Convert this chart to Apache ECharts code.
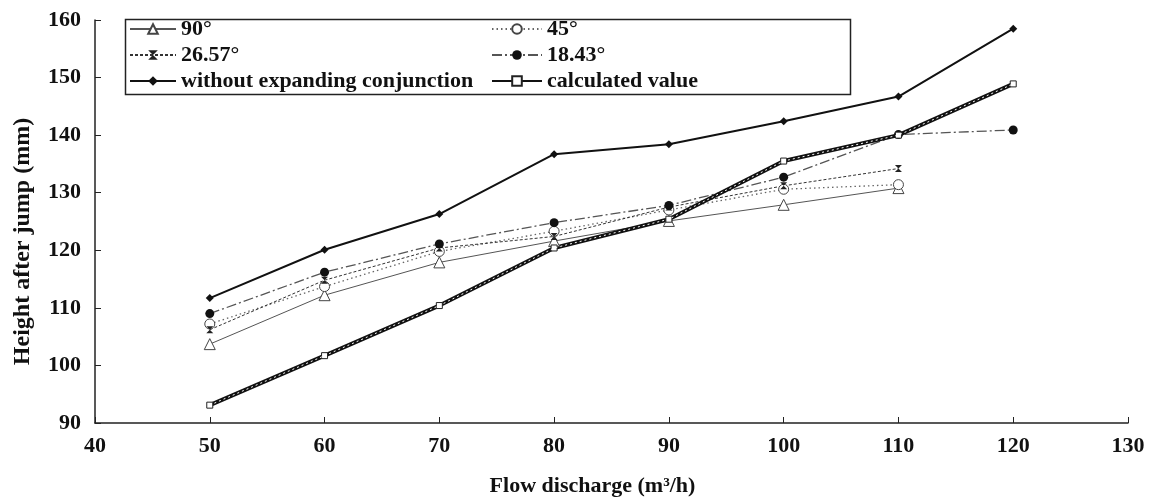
<!DOCTYPE html>
<html>
<head>
<meta charset="utf-8">
<script src="https://cdn.jsdelivr.net/npm/echarts@6/dist/echarts.min.js"></script>
<style>
  html, body { margin: 0; padding: 0; background: #fff; }
  #chart { width: 1150px; height: 501px; }
</style>
</head>
<body>
<div id="chart"></div>
<script>
// flow discharge (m3/h)
var flow = [50, 60, 70, 80, 90, 100, 110, 120];
// height after jump (mm)
var deg90  = [103.7, 112.2, 117.9, 121.6, 125.1, 127.9, 130.8, null];
var deg45  = [107.2, 113.7, 119.8, 123.3, 127.0, 130.6, 131.4, null];
var deg26  = [106.2, 114.8, 120.4, 122.4, 127.5, 131.2, 134.2, null];
var deg18  = [109.0, 116.2, 121.1, 124.8, 127.8, 132.7, 140.1, 140.9];
var noExp  = [111.7, 120.1, 126.3, 136.7, 138.4, 142.4, 146.7, 158.5];
var calc   = [93.1, 101.7, 110.4, 120.4, 125.4, 135.5, 140.0, 148.9];

function pairs(ys){
	var out = [];
	for(var i=0;i<flow.length;i++){
		if(ys[i] != null) out.push([flow[i], ys[i]]);
	}
	return out;
}

var font = "'Liberation Serif', 'Times New Roman', serif";
var hourglass = 'path://M0,0 L10,0 L0,10 L10,10 Z';
var legendText = { fontFamily: font, fontWeight: 'bold', fontSize: 22, lineHeight: 22, color: '#111' };

var chart = echarts.init(document.getElementById("chart"));
var option = {
	backgroundColor: '#fff',
	animation: false,
	grid: { left: 95, right: 22, top: 20, bottom: 78, outerBoundsMode: 'none' },
	legend: [
		{
			orient: 'vertical', left: 129, top: 18, itemGap: 4, padding: 0,
			itemWidth: 46, itemHeight: 12,
			textStyle: legendText,
			data: ['90°', '26.57°', 'without expanding conjunction']
		},
		{
			orient: 'vertical', left: 491, top: 18, itemGap: 4, padding: 0,
			itemWidth: 50, itemHeight: 12,
			textStyle: legendText,
			data: ['45°', '18.43°', 'calculated value']
		}
	],
	graphic: [{
		type: 'rect', left: 123, top: 17,
		shape: { width: 725, height: 75 },
		style: { fill: 'none', stroke: '#222', lineWidth: 1.5 }
	}],
	xAxis: {
		type: 'value', min: 40, max: 130, interval: 10,
		name: 'Flow discharge (m³/h)', nameLocation: 'middle', nameGap: 52,
		nameTextStyle: { fontFamily: font, fontWeight: 'bold', fontSize: 22, color: '#111', padding: [0, 38, 0, 0] },
		axisLine: { lineStyle: { color: '#222', width: 1.5 } },
		axisTick: { inside: true, length: 6, lineStyle: { color: '#222' } },
		axisLabel: { fontFamily: font, fontWeight: 'bold', fontSize: 22, color: '#111', margin: 12 },
		splitLine: { show: false }
	},
	yAxis: {
		type: 'value', min: 90, max: 160, interval: 10,
		name: 'Height after jump (mm)', nameLocation: 'middle', nameGap: 60,
		nameTextStyle: { fontFamily: font, fontWeight: 'bold', fontSize: 24, color: '#111', padding: [0, 40, 0, 0] },
		axisLine: { show: true, lineStyle: { color: '#222', width: 1.5 } },
		axisTick: { show: true, inside: true, length: 6, lineStyle: { color: '#222' } },
		axisLabel: { fontFamily: font, fontWeight: 'bold', fontSize: 22, color: '#111', margin: 14 },
		splitLine: { show: false }
	},
	series: [
		{
			name: '90°', type: 'line', data: pairs(deg90),
			symbol: 'triangle', symbolSize: 11,
			lineStyle: { color: '#555', width: 1 },
			itemStyle: { color: '#fff', borderColor: '#444', borderWidth: 1 }
		},
		{
			name: '45°', type: 'line', data: pairs(deg45),
			symbol: 'circle', symbolSize: 10,
			lineStyle: { color: '#666', width: 1.3, type: [1.5, 3] },
			itemStyle: { color: '#fff', borderColor: '#444', borderWidth: 1 }
		},
		{
			name: '26.57°', type: 'line', data: pairs(deg26),
			symbol: hourglass, symbolSize: 7,
			lineStyle: { color: '#333', width: 1, type: [3, 2] },
			itemStyle: { color: '#222' }
		},
		{
			name: '18.43°', type: 'line', data: pairs(deg18),
			symbol: 'circle', symbolSize: 9,
			lineStyle: { color: '#555', width: 1.3, type: [10, 3, 2, 3] },
			itemStyle: { color: '#111' }
		},
		{
			name: 'without expanding conjunction', type: 'line', data: pairs(noExp),
			symbol: 'diamond', symbolSize: 8,
			lineStyle: { color: '#111', width: 2 },
			itemStyle: { color: '#111' }
		},
		{
			name: 'calculated value', type: 'line', data: pairs(calc),
			symbol: 'rect', symbolSize: 6,
			lineStyle: { color: '#111', width: 4 },
			itemStyle: { color: '#fff', borderColor: '#222', borderWidth: 1 },
			z: 3
		},
		{
			// white texture running inside the calculated line
			name: 'calc-texture', type: 'line', data: pairs(calc),
			symbol: 'none', silent: true,
			lineStyle: { color: '#fff', width: 1, type: [2, 3] },
			z: 4
		}
	]
};
chart.setOption(option);
</script>
</body>
</html>
